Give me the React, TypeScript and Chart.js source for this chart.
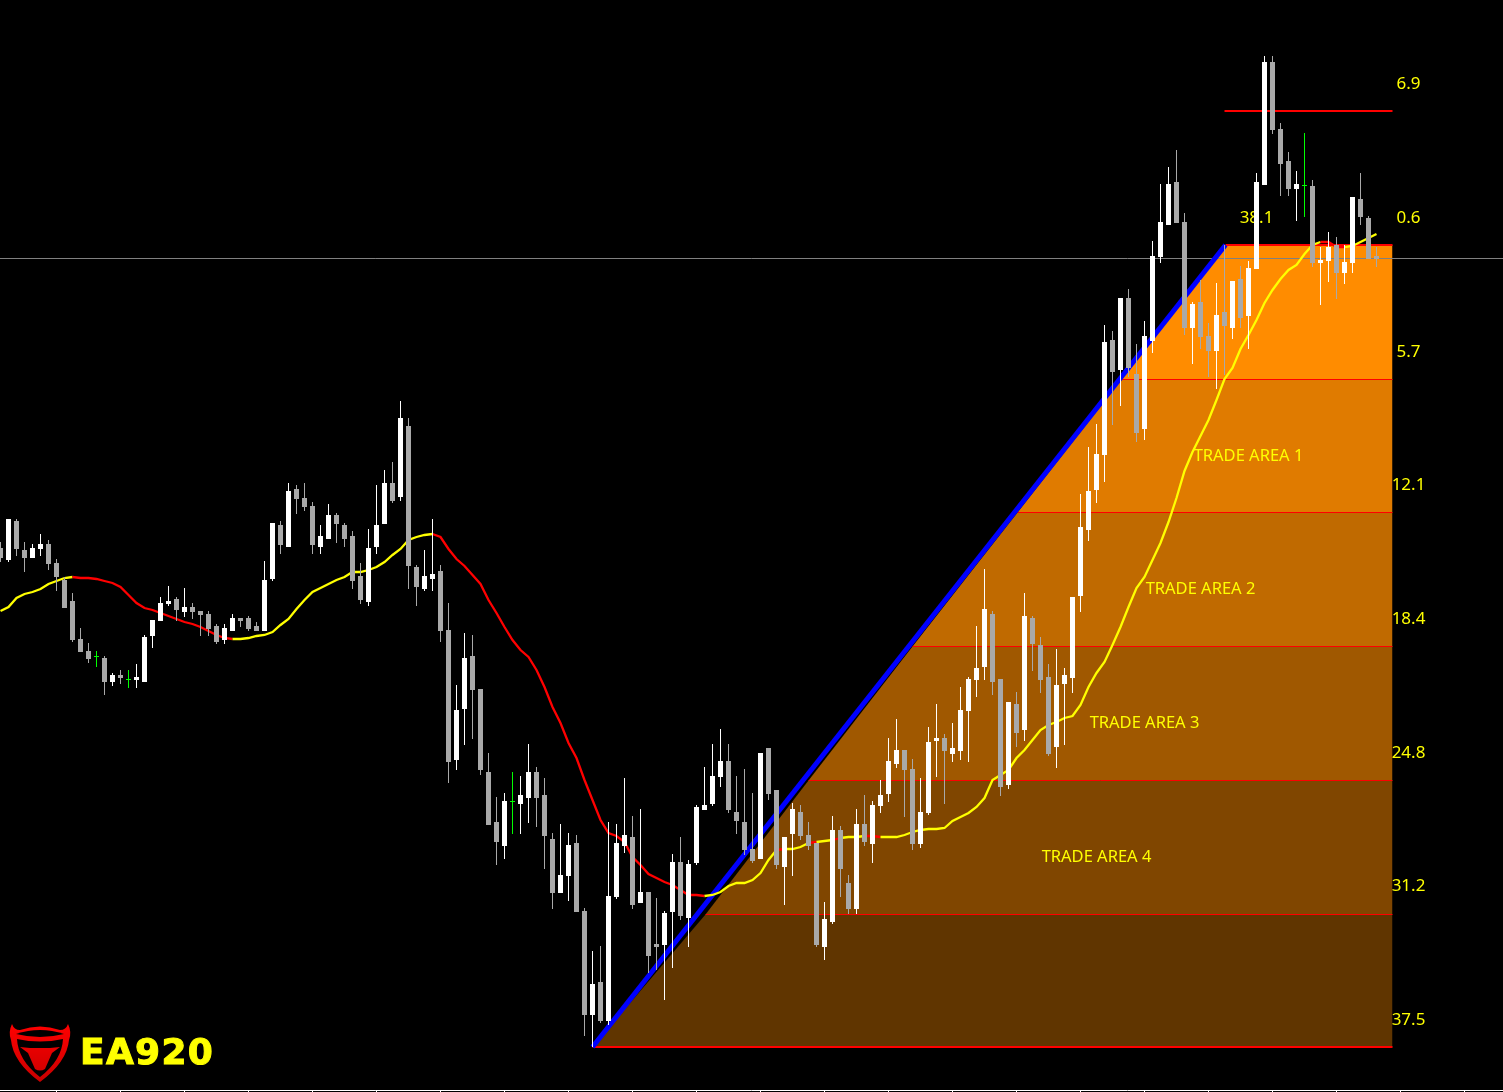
import React, { useEffect, useRef } from "react";
import { Chart, registerables } from "chart.js";

Chart.register(...registerables);

// OHLC series, one entry per bar, in chart points.
const opens = [
  544,532,571,542,534,543,548,529,512,491,453,441,436,434,410,417,413,412,410,456,471,488,493,480,485,481,478,466,452,461,
  474,474,466,461,513,567,545,603,594,586,545,553,577,567,556,516,490,545,568,609,595,666,525,503,513,521,462,332,383,436,
  403,320,270,246,291,288,294,320,297,253,199,216,249,181,77,110,71,195,246,255,189,200,148,147,180,230,174,229,282,288,
  315,331,280,270,243,233,344,302,225,258,280,257,249,145,170,262,209,183,268,248,286,298,328,342,323,248,279,351,354,338,
  341,381,412,425,478,413,307,388,362,474,447,415,345,408,414,496,562,602,637,752,722,794,718,663,751,835,867,910,870,764,
  790,756,741,780,764,813,776,823,907,1030,963,931,903,907,906,829,831,847,819,829,893,874,836,
];
const closes = [
  534,573,543,534,544,548,528,515,484,452,440,433,436,410,417,414,413,415,455,472,489,491,482,485,480,477,463,450,464,474,
  471,463,461,512,569,547,601,593,585,547,556,577,568,553,511,492,544,567,609,591,674,526,505,516,518,461,330,382,434,402,
  322,267,250,291,291,297,320,294,256,199,217,247,180,77,108,71,196,249,257,187,200,136,145,179,230,176,228,285,287,316,
  331,282,271,242,231,339,298,227,255,283,256,246,147,173,262,223,183,268,250,287,297,331,342,322,248,280,350,354,341,344,
  382,413,424,483,410,305,390,359,476,448,412,338,407,417,495,565,601,638,750,720,794,724,659,756,836,870,908,869,764,788,
  755,741,777,766,811,774,824,910,1030,962,928,903,908,907,829,832,845,819,830,895,875,833,833,
];
const highs = [
  550,573,573,550,548,558,552,533,515,499,464,449,441,436,419,422,422,428,457,472,495,506,495,504,489,481,481,468,468,478,
  474,476,470,531,569,571,609,607,609,590,567,588,579,569,561,529,563,607,622,630,691,674,527,542,573,527,489,407,459,457,
  403,339,295,299,320,316,348,325,314,259,268,259,257,184,141,146,270,268,314,276,283,200,194,181,238,255,232,287,325,348,
  363,348,316,323,299,339,344,302,255,289,287,270,249,190,276,266,217,283,297,291,312,354,373,342,333,314,365,388,358,369,
  405,415,466,523,481,413,390,400,499,476,455,428,443,424,495,598,645,668,767,761,794,803,748,771,851,908,925,942,879,790,
  812,769,809,847,811,826,831,919,1036,1036,969,940,921,959,912,845,860,855,847,895,919,876,845,
];
const lows = [
  530,530,536,520,534,536,522,501,484,450,440,429,425,397,406,408,404,404,410,444,471,486,471,475,473,456,456,448,448,461,
  465,461,461,461,511,538,545,578,581,538,538,553,549,545,503,488,486,538,568,589,591,503,486,501,501,450,309,322,347,353,
  317,267,227,233,258,258,269,265,223,183,199,191,180,56,45,69,67,193,239,183,189,119,122,92,124,172,145,227,282,286,
  305,279,258,237,229,233,292,223,187,216,252,242,145,132,168,195,178,178,246,229,279,290,324,275,242,244,277,315,288,330,
  332,330,395,412,397,296,303,345,351,421,399,336,324,347,399,480,551,589,610,667,686,715,650,652,739,829,867,869,757,728,
  743,715,703,717,753,764,743,823,907,958,896,896,871,875,825,787,810,793,808,819,867,833,825,
];

// Moving average, one value per bar, and the runs of segments it is drawn red.
const movingAverage = [
  481,485,494,498,500,503,508,511,514,515,514,514,513,511,509,505,497,489,484,482,479,476,473,470,468,465,461,457,454,453,
  453,454,456,457,460,467,473,483,492,500,504,508,512,515,520,520,522,525,530,537,543,552,555,557,558,555,543,533,526,517,
  508,492,479,465,452,442,435,422,405,385,369,349,334,312,292,272,259,256,250,235,227,218,214,210,207,202,197,197,196,197,
  200,206,209,209,212,219,232,242,243,243,245,249,250,251,252,254,255,255,256,256,255,255,255,257,260,262,263,263,264,271,
  275,279,285,294,312,317,322,334,342,352,362,367,370,374,376,387,405,419,430,447,465,485,504,515,532,549,570,594,621,640,
  656,672,692,713,724,743,757,772,789,802,813,822,827,838,847,850,850,845,845,846,850,854,858,
];
const maRedRuns = [[9, 28], [54, 87], [97, 97], [101, 101], [104, 104], [108, 109], [165, 167]];

// Retracement levels: price, and the bar position where each level begins on the trend line.
const levelPrices = [981, 847, 712.5, 579.5, 445.5, 311.5, 177.5, 45];
const levelStarts = [153, 153.125, 140.125, 127.125, 114, 101, 88.125, 74];
const levelWidths = [2, 2, 1, 1, 1, 1, 1, 2];
const levelEnd = 174;
const bandColors = ["#FF8C00", "#E07B00", "#C06A00", "#A05800", "#804600", "#603500"];

const trendX = [74, 153.125];
const trendY = [45, 847];
const currentPrice = 833.5;

// Text labels.
const levelLabels = ["6.9", "0.6", "5.7", "12.1", "18.4", "24.8", "31.2", "37.5"];
const levelLabelY = [1008, 874, 740, 607, 473, 339, 206, 72];
const levelLabelX = 176;
const areaLabels = ["TRADE AREA 1", "TRADE AREA 2", "TRADE AREA 3", "TRADE AREA 4"];
const areaLabelX = [156, 150, 143, 137];
const areaLabelY = [636, 503, 369, 235];
const retraceLabel = "38.1";
const retraceX = 157;
const retraceY = 874;
const brand = "EA920";

// Time axis ticks along the bottom edge.
const axisTicks = [7, 15, 23, 31, 39, 47, 55, 63, 71, 79, 87, 95, 103, 111, 119, 127, 135, 143, 151, 159, 167, 175, 183];
const axisBaseline = 1.5;

const WIDTH = 1503;
const HEIGHT = 1092;

const barIndex = opens.map((_, i) => i);
const candleColor = (i: number) =>
  closes[i] > opens[i] ? "#FFFFFF" : closes[i] < opens[i] ? "#A9A9A9" : "#00FF00";
const isRed = (i: number) => maRedRuns.some(([a, b]) => i >= a && i <= b);

const labelsPlugin = {
  id: "mtLabels",
  beforeDatasetDraw(chart: any, args: any) {
    if (args.meta.label !== "wicks") return;
    const { ctx, scales } = chart;
    const x = scales.x;
    const y = scales.y;
    ctx.save();
    ctx.fillStyle = "#FFFF00";
    ctx.textAlign = "center";
    ctx.textBaseline = "middle";
    ctx.font = '17px "Noto Sans"';
    levelLabels.forEach((t, i) => {
      ctx.fillText(t, x.getPixelForValue(levelLabelX), y.getPixelForValue(levelLabelY[i]));
    });
    ctx.fillText(retraceLabel, x.getPixelForValue(retraceX), y.getPixelForValue(retraceY));
    ctx.font = '16.5px "Noto Sans"';
    areaLabels.forEach((t, i) => {
      ctx.fillText(t, x.getPixelForValue(areaLabelX[i]), y.getPixelForValue(areaLabelY[i]));
    });
    ctx.restore();
  },
  afterDraw(chart: any) {
    const { ctx } = chart;
    ctx.save();
    const grad = ctx.createLinearGradient(0, 1024, 0, 1082);
    grad.addColorStop(0, "#FF0000");
    grad.addColorStop(1, "#C80000");
    ctx.fillStyle = grad;
    // outer shield with horns
    ctx.beginPath();
    ctx.moveTo(12, 1024);
    ctx.quadraticCurveTo(8, 1032, 11, 1040);
    ctx.quadraticCurveTo(13, 1062, 40, 1082);
    ctx.quadraticCurveTo(67, 1062, 69, 1040);
    ctx.quadraticCurveTo(72, 1032, 68, 1024);
    ctx.quadraticCurveTo(66, 1030, 60, 1030);
    ctx.quadraticCurveTo(40, 1023, 20, 1030);
    ctx.quadraticCurveTo(14, 1030, 12, 1024);
    ctx.fill();
    // black crescent under the ring
    ctx.fillStyle = "#000000";
    ctx.beginPath();
    ctx.moveTo(16, 1034);
    ctx.quadraticCurveTo(40, 1026, 64, 1034);
    ctx.quadraticCurveTo(40, 1040, 16, 1034);
    ctx.fill();
    // inner shield
    ctx.beginPath();
    ctx.moveTo(17, 1039);
    ctx.quadraticCurveTo(40, 1044, 63, 1039);
    ctx.quadraticCurveTo(62, 1060, 40, 1077);
    ctx.quadraticCurveTo(18, 1060, 17, 1039);
    ctx.fill();
    // bull head
    ctx.fillStyle = grad;
    ctx.beginPath();
    ctx.moveTo(20, 1047);
    ctx.lineTo(30, 1048);
    ctx.lineTo(50, 1048);
    ctx.lineTo(60, 1047);
    ctx.lineTo(52, 1053);
    ctx.lineTo(45, 1069);
    ctx.quadraticCurveTo(40, 1072, 35, 1069);
    ctx.lineTo(28, 1053);
    ctx.closePath();
    ctx.fill();
    // brand word
    ctx.fillStyle = "#FFFF00";
    ctx.strokeStyle = "#FFFF00";
    ctx.lineWidth = 1;
    ctx.font = 'bold 36px "DejaVu Sans"';
    ctx.letterSpacing = "1.3px";
    ctx.textAlign = "left";
    ctx.textBaseline = "alphabetic";
    ctx.fillText(brand, 80, 1064);
    ctx.strokeText(brand, 80, 1064);
    ctx.restore();
  },
};

export default function App() {
  const ref = useRef<HTMLCanvasElement | null>(null);

  useEffect(() => {
    const bands = bandColors.map((color, i) => ({
      type: "line" as const,
      label: `band${i}`,
      order: 20,
      data: [
        { x: levelStarts[i + 2], y: levelPrices[i + 2] },
        { x: levelStarts[i + 1], y: levelPrices[i + 1] },
        { x: levelEnd, y: levelPrices[i + 1] },
      ],
      borderWidth: 0,
      borderColor: "transparent",
      pointRadius: 0,
      backgroundColor: color,
      fill: { value: levelPrices[i + 2] },
    }));
    const levels = levelPrices.map((p, i) => ({
      type: "line" as const,
      label: `level${i}`,
      order: 15,
      data: [
        { x: levelStarts[i], y: p },
        { x: levelEnd, y: p },
      ],
      borderColor: "#FF0000",
      borderWidth: levelWidths[i],
      pointRadius: 0,
      fill: false,
    }));
    const chart = new Chart(ref.current as HTMLCanvasElement, {
      type: "bar",
      data: {
        datasets: [
          ...bands,
          ...levels,
          {
            type: "line",
            label: "current",
            order: 14,
            data: [
              { x: -0.0625, y: currentPrice },
              { x: WIDTH / 8, y: currentPrice },
            ],
            borderColor: "#808080",
            borderWidth: 1,
            pointRadius: 0,
          },
          {
            type: "line",
            label: "trend",
            order: 13,
            data: trendX.map((x, i) => ({ x, y: trendY[i] })),
            borderColor: "#0000FF",
            borderWidth: 5,
            pointRadius: 0,
          },
          {
            type: "line",
            label: "ma",
            order: 12,
            data: barIndex.map((x) => ({ x, y: movingAverage[x] })),
            borderColor: "#FFFF00",
            borderWidth: 2.3,
            pointRadius: 0,
            tension: 0,
            segment: {
              borderColor: (c: any) => (isRed(c.p0DataIndex) ? "#FF0000" : "#FFFF00"),
            },
          },
          {
            type: "bar",
            label: "wicks",
            order: 5,
            data: barIndex.map((x) => ({ x, y: [lows[x], highs[x]] })),
            backgroundColor: barIndex.map(candleColor),
            maxBarThickness: 1,
            grouped: false,
            inflateAmount: 0,
          },
          {
            type: "bar",
            label: "bodies",
            order: 4,
            data: barIndex.map((x) => ({
              x,
              y: opens[x] === closes[x] ? [opens[x] - 1, opens[x]] : [opens[x], closes[x]],
            })),
            backgroundColor: barIndex.map(candleColor),
            maxBarThickness: 5,
            grouped: false,
            inflateAmount: 0,
          },
          {
            type: "line",
            label: "axis",
            order: 3,
            data: [
              { x: -0.0625, y: axisBaseline },
              { x: WIDTH / 8, y: axisBaseline },
            ],
            borderColor: "#FFFFFF",
            borderWidth: 1,
            pointRadius: 0,
          },
          {
            type: "bar",
            label: "axisTicks",
            order: 2,
            data: axisTicks.map((x) => ({ x, y: [0, axisBaseline] })),
            backgroundColor: "#FFFFFF",
            maxBarThickness: 1,
            grouped: false,
            inflateAmount: 0,
          },
        ] as any,
      },
      options: {
        responsive: false,
        animation: false,
        events: [],
        layout: { padding: 0 },
        scales: {
          x: { type: "linear", display: false, offset: false, min: -0.0625, max: -0.0625 + WIDTH / 8, grid: { display: false } },
          y: { type: "linear", display: false, min: 0, max: HEIGHT, grid: { display: false } },
        },
        plugins: { legend: { display: false }, tooltip: { enabled: false }, title: { display: false } },
      },
      plugins: [labelsPlugin],
    });
    return () => chart.destroy();
  }, []);

  return (
    <div style={{ position: "fixed", left: 0, top: 0, width: WIDTH, height: HEIGHT, background: "#000" }}>
      <canvas ref={ref} width={WIDTH} height={HEIGHT} style={{ display: "block", width: WIDTH, height: HEIGHT }} />
    </div>
  );
}
